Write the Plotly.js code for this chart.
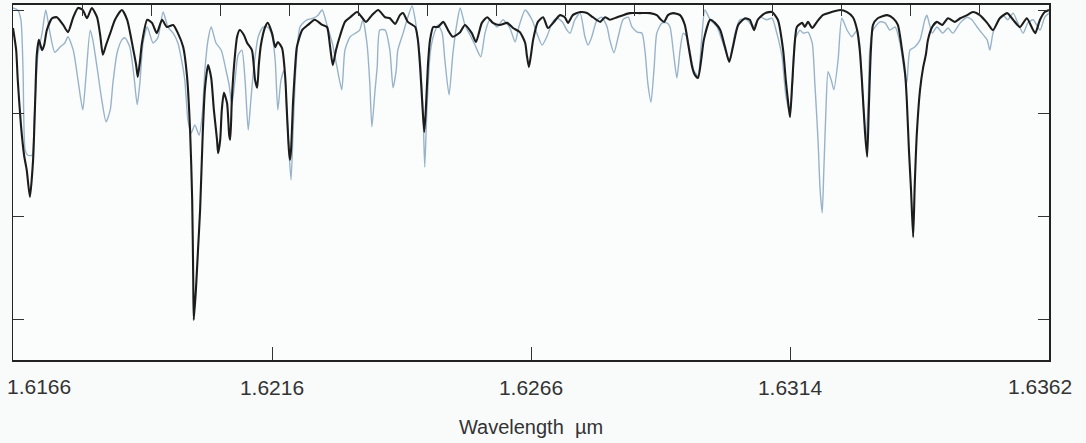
<!DOCTYPE html>
<html>
<head>
<meta charset="utf-8">
<script src="https://cdn.plot.ly/plotly-3.0.1.min.js"></script>
<style>
html,body{margin:0;padding:0;background:#f9fbfb;}
#chart{width:1086px;height:443px;}
</style>
</head>
<body>
<div id="chart"></div>
<script>
// Observed spectrum (black): [wavelength µm, normalised flux]
var observedPoints = [
[1.61660,.965],[1.61666,.922],[1.61669,.864],[1.61675,.777],[1.61681,.718],[1.61686,.689],[1.61692,.637],[1.61698,.709],[1.61702,.825],[1.61705,.913],
[1.61709,.942],[1.61715,.922],[1.61719,.932],[1.61724,.961],[1.61734,.984],[1.61743,.986],[1.61755,.971],[1.61764,.957],[1.61774,.986],[1.61783,1.004],
[1.61792,1.000],[1.61800,.984],[1.61809,1.004],[1.61819,.986],[1.61825,.951],[1.61830,.913],[1.61836,.932],[1.61844,.955],[1.61853,.981],[1.61866,1.000],
[1.61876,.981],[1.61887,.926],[1.61893,.893],[1.61896,.870],[1.61900,.899],[1.61904,.936],[1.61914,.981],[1.61923,.975],[1.61932,.955],[1.61942,.981],
[1.61951,.967],[1.61963,.971],[1.61972,.955],[1.61982,.928],[1.61989,.874],[1.61995,.767],[1.61999,.631],[1.62001,.476],[1.62002,.398],[1.62006,.456],
[1.62010,.534],[1.62014,.612],[1.62019,.761],[1.62023,.845],[1.62029,.893],[1.62035,.868],[1.62040,.806],[1.62046,.748],[1.62048,.722],[1.62052,.748],
[1.62055,.806],[1.62059,.839],[1.62065,.819],[1.62069,.757],[1.62071,.748],[1.62074,.825],[1.62078,.889],[1.62084,.948],[1.62089,.961],[1.62097,.951],
[1.62103,.936],[1.62112,.922],[1.62118,.864],[1.62122,.849],[1.62125,.893],[1.62129,.932],[1.62137,.967],[1.62142,.975],[1.62150,.955],[1.62156,.928],
[1.62161,.938],[1.62169,.926],[1.62175,.870],[1.62178,.806],[1.62182,.728],[1.62184,.709],[1.62186,.728],[1.62190,.825],[1.62194,.893],[1.62197,.928],
[1.62207,.961],[1.62218,.971],[1.62231,.981],[1.62245,.971],[1.62254,.967],[1.62260,.928],[1.62265,.893],[1.62271,.922],[1.62279,.951],[1.62288,.977],
[1.62298,.986],[1.62311,.996],[1.62320,.986],[1.62328,.977],[1.62339,.990],[1.62351,1.000],[1.62364,.986],[1.62373,.984],[1.62383,.973],[1.62392,.990],
[1.62398,.994],[1.62407,.977],[1.62421,.967],[1.62426,.942],[1.62430,.893],[1.62434,.825],[1.62438,.763],[1.62441,.806],[1.62445,.893],[1.62449,.942],
[1.62455,.967],[1.62464,.967],[1.62474,.977],[1.62483,.961],[1.62492,.948],[1.62506,.957],[1.62515,.971],[1.62528,.955],[1.62536,.938],[1.62547,.975],
[1.62557,.986],[1.62568,.975],[1.62581,.971],[1.62595,.975],[1.62606,.965],[1.62619,.957],[1.62629,.936],[1.62632,.913],[1.62636,.889],[1.62640,.913],
[1.62644,.942],[1.62653,.977],[1.62663,.986],[1.62672,.965],[1.62682,.975],[1.62695,.990],[1.62704,.986],[1.62710,.975],[1.62719,.990],[1.62733,.996],
[1.62746,.994],[1.62757,.986],[1.62771,.977],[1.62780,.986],[1.62789,.981],[1.62803,.986],[1.62814,.990],[1.62827,.994],[1.62846,.994],[1.62865,.994],
[1.62878,.990],[1.62886,.981],[1.62892,.977],[1.62899,.990],[1.62909,.994],[1.62922,.990],[1.62931,.971],[1.62937,.936],[1.62945,.889],[1.62950,.874],
[1.62956,.868],[1.62962,.903],[1.62967,.942],[1.62979,.981],[1.62988,.975],[1.62998,.961],[1.63007,.928],[1.63015,.899],[1.63022,.928],[1.63032,.971],
[1.63045,.984],[1.63054,.981],[1.63062,.961],[1.63069,.981],[1.63083,.994],[1.63096,.996],[1.63107,.981],[1.63117,.922],[1.63122,.864],[1.63126,.825],
[1.63130,.792],[1.63134,.854],[1.63138,.922],[1.63143,.967],[1.63153,.975],[1.63158,.967],[1.63164,.977],[1.63172,.965],[1.63181,.977],[1.63192,.990],
[1.63209,.996],[1.63225,1.000],[1.63238,.996],[1.63249,.986],[1.63257,.961],[1.63262,.922],[1.63266,.864],[1.63272,.761],[1.63276,.715],[1.63279,.806],
[1.63283,.922],[1.63287,.971],[1.63296,.984],[1.63314,.990],[1.63325,.984],[1.63334,.971],[1.63342,.922],[1.63348,.874],[1.63351,.825],[1.63355,.728],
[1.63359,.650],[1.63363,.559],[1.63366,.660],[1.63370,.761],[1.63376,.845],[1.63382,.889],[1.63387,.913],[1.63391,.942],[1.63399,.967],[1.63408,.977],
[1.63418,.971],[1.63429,.984],[1.63442,.977],[1.63452,.984],[1.63465,.990],[1.63476,.996],[1.63489,.990],[1.63503,.975],[1.63514,.961],[1.63527,.984],
[1.63541,.994],[1.63552,.981],[1.63565,.967],[1.63578,.984],[1.63588,.965],[1.63594,.955],[1.63603,.981],[1.63612,.996],[1.63620,1.000]
];

// Model / comparison spectrum (light blue): [wavelength µm, normalised flux]
var modelPoints = [
[1.61660,1.004],[1.61669,1.000],[1.61675,.981],[1.61679,.883],[1.61683,.728],[1.61688,.718],[1.61696,.718],[1.61700,.786],[1.61704,.864],[1.61707,.913],
[1.61715,.955],[1.61722,1.000],[1.61730,.955],[1.61739,.918],[1.61749,.928],[1.61758,.936],[1.61764,.948],[1.61774,.922],[1.61783,.864],[1.61792,.806],
[1.61798,.870],[1.61806,.961],[1.61811,.942],[1.61819,.889],[1.61828,.825],[1.61836,.783],[1.61844,.806],[1.61849,.858],[1.61857,.917],[1.61866,.942],
[1.61872,.946],[1.61881,.928],[1.61889,.870],[1.61895,.816],[1.61900,.858],[1.61906,.936],[1.61914,.967],[1.61925,.936],[1.61934,.946],[1.61944,.996],
[1.61953,.967],[1.61963,.955],[1.61972,.936],[1.61980,.897],[1.61985,.864],[1.61991,.786],[1.61997,.761],[1.62004,.777],[1.62012,.757],[1.62018,.796],
[1.62023,.883],[1.62029,.942],[1.62035,.967],[1.62044,.936],[1.62054,.922],[1.62063,.883],[1.62069,.854],[1.62074,.816],[1.62080,.864],[1.62086,.913],
[1.62093,.922],[1.62099,.864],[1.62105,.767],[1.62110,.825],[1.62116,.893],[1.62124,.948],[1.62133,.967],[1.62142,.967],[1.62150,.951],[1.62156,.903],
[1.62161,.806],[1.62167,.864],[1.62173,.883],[1.62178,.806],[1.62182,.728],[1.62186,.670],[1.62190,.767],[1.62195,.883],[1.62203,.967],[1.62216,.981],
[1.62228,.984],[1.62237,.990],[1.62245,1.000],[1.62254,.971],[1.62264,.936],[1.62273,.889],[1.62282,.845],[1.62288,.922],[1.62298,.948],[1.62311,.957],
[1.62316,.961],[1.62322,.981],[1.62330,.932],[1.62335,.858],[1.62339,.773],[1.62345,.845],[1.62349,.889],[1.62354,.961],[1.62364,.961],[1.62373,.922],
[1.62379,.849],[1.62385,.883],[1.62388,.922],[1.62398,.955],[1.62407,.986],[1.62415,1.008],[1.62421,.981],[1.62426,.942],[1.62430,.909],[1.62436,.792],
[1.62439,.695],[1.62443,.806],[1.62449,.913],[1.62455,.948],[1.62464,.971],[1.62472,.955],[1.62477,.903],[1.62485,.835],[1.62492,.913],[1.62500,.975],
[1.62506,1.004],[1.62515,.971],[1.62525,.951],[1.62534,.932],[1.62545,.909],[1.62553,.955],[1.62562,.981],[1.62576,.967],[1.62587,.981],[1.62600,.965],
[1.62610,.938],[1.62617,.967],[1.62629,1.000],[1.62642,.981],[1.62651,.955],[1.62661,.932],[1.62670,.948],[1.62680,.975],[1.62689,.984],[1.62699,.977],
[1.62708,.961],[1.62714,.955],[1.62723,.981],[1.62733,.994],[1.62742,.948],[1.62748,.932],[1.62755,.948],[1.62765,.981],[1.62774,.986],[1.62784,.967],
[1.62789,.942],[1.62797,.917],[1.62805,.948],[1.62814,.981],[1.62824,.986],[1.62831,.967],[1.62841,.957],[1.62850,.955],[1.62856,.917],[1.62861,.858],
[1.62867,.821],[1.62873,.889],[1.62878,.955],[1.62888,.975],[1.62897,.975],[1.62903,.967],[1.62909,.922],[1.62916,.868],[1.62922,.922],[1.62928,.955],
[1.62935,.948],[1.62941,.918],[1.62948,.883],[1.62956,.872],[1.62962,.932],[1.62969,1.000],[1.62979,.981],[1.62992,.967],[1.63003,.936],[1.63015,.903],
[1.63026,.955],[1.63035,.981],[1.63049,.981],[1.63060,.967],[1.63073,.986],[1.63086,.981],[1.63096,.984],[1.63105,.955],[1.63115,.909],[1.63122,.835],
[1.63130,.800],[1.63136,.883],[1.63139,.942],[1.63149,.961],[1.63155,.955],[1.63164,.957],[1.63172,.936],[1.63177,.858],[1.63183,.748],[1.63187,.650],
[1.63191,.606],[1.63194,.689],[1.63198,.806],[1.63202,.880],[1.63208,.864],[1.63213,.845],[1.63221,.903],[1.63228,.984],[1.63238,.961],[1.63247,.948],
[1.63257,.961],[1.63262,.932],[1.63268,.825],[1.63274,.748],[1.63278,.825],[1.63281,.922],[1.63287,.961],[1.63300,.977],[1.63310,.975],[1.63319,.961],
[1.63329,.967],[1.63338,.936],[1.63348,.870],[1.63351,.858],[1.63357,.922],[1.63366,.928],[1.63376,.942],[1.63385,.981],[1.63389,.990],[1.63399,.955],
[1.63408,.967],[1.63419,.955],[1.63429,.965],[1.63438,.955],[1.63452,.975],[1.63465,.986],[1.63474,.981],[1.63484,.967],[1.63493,.955],[1.63503,.942],
[1.63508,.922],[1.63514,.955],[1.63524,.981],[1.63533,.990],[1.63542,.981],[1.63552,.994],[1.63561,.975],[1.63571,.955],[1.63580,.975],[1.63590,.981],
[1.63603,.961],[1.63612,.986],[1.63620,.994]
];

var axisMin = 1.6166, axisMax = 1.6362;
var tickValues = [1.6215, 1.6264, 1.6313];
var tickLabels = ['1.6216', '1.6266', '1.6314'];
var endLabels = ['1.6166', '1.6362'];
var fluxTicks = [0.4, 0.6, 0.8, 1.0];
var topTickValues = [1,2,3,4,5,6,7,8,9,10,11,12,13,14];

var obsX = observedPoints.map(function(p){return p[0];});
var obsY = observedPoints.map(function(p){return p[1];});
var modX = modelPoints.map(function(p){return p[0];});
var modY = modelPoints.map(function(p){return p[1];});

var labelFont = {family: 'Liberation Sans, Arial, sans-serif', size: 21, color: '#333333'};

var traces = [
  {x: modX, y: modY, type: 'scatter', mode: 'lines', name: 'model',
   line: {color: '#98b3c9', width: 1.4, shape: 'spline', smoothing: 0.6}, hoverinfo: 'skip'},
  {x: obsX, y: obsY, type: 'scatter', mode: 'lines', name: 'observed',
   line: {color: '#1c1c1c', width: 2.1, shape: 'spline', smoothing: 0.6}, hoverinfo: 'skip'},
  {x: [0, 15], y: [null, null], xaxis: 'x2', type: 'scatter', mode: 'lines',
   showlegend: false, hoverinfo: 'skip'}
];

var layout = {
  width: 1086, height: 443,
  margin: {l: 13, r: 37, t: 5, b: 83},
  paper_bgcolor: '#f9fbfb', plot_bgcolor: '#fbfdfd',
  showlegend: false,
  font: labelFont,
  xaxis: {
    range: [axisMin, axisMax], tickvals: tickValues, ticktext: tickLabels,
    ticks: 'inside', ticklen: 13, tickwidth: 1, tickcolor: '#333',
    showline: true, linecolor: '#222', linewidth: 2, mirror: true,
    showgrid: false, zeroline: false, tickfont: labelFont,
    ticklabelstandoff: 8,
    title: {text: 'Wavelength\u00a0\u00a0\u00b5m', font: {family: 'Liberation Sans, Arial, sans-serif', size: 20, color: '#333'}, standoff: 22}
  },
  xaxis2: {
    overlaying: 'x', side: 'top', range: [0, 15], tickvals: topTickValues,
    ticks: 'inside', ticklen: 11, tickwidth: 1, tickcolor: '#333',
    showticklabels: false, showline: false, showgrid: false, zeroline: false
  },
  yaxis: {
    range: [0.3204, 1.0097], tickvals: fluxTicks,
    ticks: 'inside', ticklen: 11, tickwidth: 1, tickcolor: '#333',
    showline: true, linecolor: '#222', linewidth: 1.5, mirror: 'ticks',
    showticklabels: false, showgrid: false, zeroline: false
  },
  annotations: [
    {text: endLabels[0], xref: 'paper', yref: 'paper', x: 0.0251, y: -0.076,
     xanchor: 'center', yanchor: 'middle', showarrow: false, font: labelFont},
    {text: endLabels[1], xref: 'paper', yref: 'paper', x: 0.9913, y: -0.076,
     xanchor: 'center', yanchor: 'middle', showarrow: false, font: labelFont}
  ]
};

Plotly.newPlot('chart', traces, layout, {staticPlot: true, displayModeBar: false});
</script>
</body>
</html>
